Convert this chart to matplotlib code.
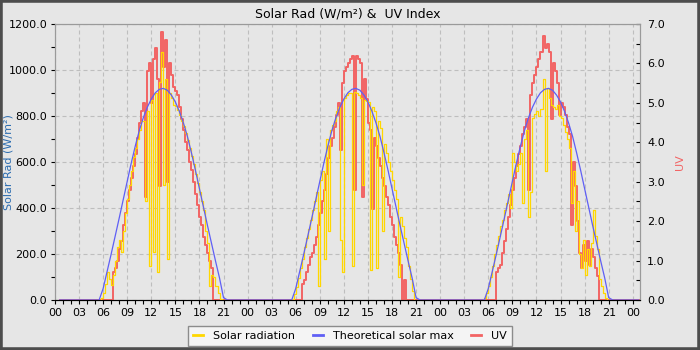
import numpy as np
import matplotlib
matplotlib.use('Agg')
from matplotlib import pyplot as plt
from matplotlib.ticker import MultipleLocator, FormatStrFormatter, FuncFormatter
from matplotlib.patches import Rectangle

# daytime samples every 15 min, local clock 05:00 - 20:45
day_hours = np.arange(5.0, 21.0, 0.25)
day_starts = [0, 24, 48]

solar_day1 = [
    0, 0, 0, 10, 30, 70, 120, 90,
    65, 110, 170, 230, 260, 210, 300, 380,
    440, 500, 560, 620, 660, 700, 740, 780,
    780, 430, 820, 150, 870, 210, 900, 120,
    950, 1080, 500, 960, 180, 900, 880, 850,
    845, 825, 805, 780, 755, 725, 695, 660,
    625, 590, 550, 510, 470, 430, 390, 300,
    250, 60, 110, 100, 60, 30, 5, 0]
solar_day2 = [
    0, 0, 5, 25, 55, 95, 140, 180,
    230, 270, 310, 350, 390, 430, 470, 60,
    520, 560, 180, 700, 300, 740, 760, 780,
    820, 840, 260, 120, 880, 890, 900, 900,
    150, 905, 900, 890, 880, 500, 870, 865,
    860, 130, 840, 820, 140, 780, 750, 300,
    680, 640, 600, 560, 520, 480, 440, 100,
    360, 320, 270, 230, 150, 90, 40, 0]
solar_day3 = [
    0, 0, 10, 30, 60, 100, 150, 200,
    240, 280, 320, 350, 390, 420, 460, 400,
    640, 600, 560, 590, 640, 420, 700, 740,
    360, 470, 790, 810, 820, 800, 830, 960,
    560, 920, 880, 850, 840, 830, 850, 800,
    790, 760, 730, 700, 660, 420, 560, 300,
    430, 200, 140, 260, 110, 220, 150, 250,
    390, 280, 220, 90, 60, 30, 10, 0]

uv_day1 = [
    0, 0, 0, 0, 0, 0, 0, 0,
    0, 0.7, 0.8, 1.0, 1.3, 1.5, 1.9, 2.2,
    2.5, 2.8, 3.1, 3.4, 3.7, 4.1, 4.5, 4.8,
    5.0, 2.6, 5.8, 6.0, 5.0, 6.1, 6.4, 5.6,
    2.9, 6.8, 5.9, 6.6, 3.0, 6.0, 5.7, 5.4,
    5.3, 5.2, 4.9, 4.6, 4.3, 4.0, 3.8, 3.5,
    3.3, 3.0, 2.7, 2.4, 2.1, 1.9, 1.6, 1.4,
    1.2, 1.0, 0.8, 0, 0, 0, 0, 0]
uv_day2 = [
    0, 0, 0, 0, 0, 0, 0, 0.4,
    0.5, 0.7, 0.9, 1.1, 1.2, 1.4, 1.6, 1.9,
    2.2, 2.5, 2.8, 3.2, 3.6, 3.9, 4.1, 4.4,
    4.7, 5.0, 3.8, 5.5, 5.8, 5.9, 6.0, 6.1,
    6.2, 2.8, 6.2, 6.1, 6.0, 2.6, 5.6, 5.1,
    4.5, 4.3, 2.3, 4.1, 3.9, 3.6, 3.4, 3.1,
    2.9, 2.6, 2.4, 2.1, 1.9, 1.6, 1.4, 1.2,
    0.9, 0, 0.5, 0, 0, 0, 0, 0]
uv_day3 = [
    0, 0, 0, 0, 0, 0, 0, 0,
    0.7, 0.8, 0.9, 1.2, 1.5, 1.8, 2.1, 2.4,
    2.8, 3.1, 3.4, 3.7, 3.9, 4.2, 4.4, 4.6,
    2.8, 5.2, 5.5, 5.7, 5.9, 6.1, 6.3, 6.7,
    6.4, 6.5, 6.3, 4.6, 6.0, 5.8, 5.5, 4.7,
    5.0, 4.9, 4.7, 4.4, 4.2, 1.9, 3.5, 2.9,
    2.0, 1.2, 0.8, 1.4, 1.0, 1.5, 0.9, 1.3,
    1.1, 0.8, 0.6, 0, 0, 0, 0, 0]

# theoretical clear-sky max, every 30 min 05:30 - 21:30 (same each day)
theo_hours = np.arange(5.5, 21.51, 0.5)
theo_day = [0, 50, 125, 200, 278, 356, 436, 516, 595, 669, 736, 792, 838,
            874, 901, 916, 920, 912, 891, 861, 820, 770, 711, 640, 564, 484,
            404, 324, 247, 170, 96, 10, 0]

first_hour, last_hour = 0.6, 72.75


def build(days, hours):
    t, v = [first_hour], [0]
    for start, vals in zip(day_starts, days):
        t.extend(start + hours)
        v.extend(vals)
    t.append(last_hour)
    v.append(0)
    return np.array(t), np.array(v)


t_sol, solar = build([solar_day1, solar_day2, solar_day3], day_hours)
t_uv, uv = build([uv_day1, uv_day2, uv_day3], day_hours)
t_th, theo = build([theo_day] * 3, theo_hours)

bg = '#e6e6e6'
c_sol, c_theo, c_uv = '#ffd700', '#5f5ff5', '#f26464'

fig = plt.figure(figsize=(7, 3.5), dpi=100, facecolor=bg)
ax = fig.add_axes([55 / 700, 50 / 350, 585 / 700, 276 / 350], facecolor=bg)
ax2 = ax.twinx()   # UV scale (drawn below the solar lines)
ax3 = ax.twinx()   # solar lines on top
ax3.set_ylim(0, 1200)
ax3.set_axis_off()

l_uv, = ax2.plot(t_uv, uv, drawstyle='steps-post', color=c_uv, lw=1.4, label='UV')
l_sol, = ax3.plot(t_sol, solar, drawstyle='steps-post', color=c_sol, lw=0.9,
                  label='Solar radiation')
l_th, = ax3.plot(t_th, theo, color=c_theo, lw=0.9, label='Theoretical solar max')

ax.set_xlim(0, 72.9)
ax.set_ylim(0, 1200)
ax2.set_ylim(0, 7)

ax.xaxis.set_major_locator(MultipleLocator(3))
ax.xaxis.set_minor_locator(MultipleLocator(1))
ax.xaxis.set_major_formatter(FuncFormatter(lambda v, p: f"{int(round(v)) % 24:02d}"))
ax.yaxis.set_major_locator(MultipleLocator(200))
ax.yaxis.set_minor_locator(MultipleLocator(100))
ax.yaxis.set_major_formatter(FormatStrFormatter('%.1f'))
ax2.yaxis.set_major_locator(MultipleLocator(1))
ax2.yaxis.set_minor_locator(MultipleLocator(0.5))
ax2.yaxis.set_major_formatter(FormatStrFormatter('%.1f'))

ax.tick_params(axis='both', which='both', direction='out', length=3, width=0.8,
               labelsize=8, colors='black', pad=2.5)
ax.tick_params(axis='x', which='both', pad=3)
ax2.tick_params(axis='y', which='both', direction='in', length=3, width=0.8,
                labelsize=8, pad=5)

ax.grid(True, which='major', linestyle=(0, (3.6, 2.7)), color='#bebebe', lw=0.8)

for a in (ax, ax2):
    for s in ('left', 'top', 'right'):
        a.spines[s].set_color('#9a9a9a')
    a.spines['bottom'].set_color('black')

ax.set_title('Solar Rad (W/m²) &  UV Index', fontsize=9, pad=5)
fig.text(8.5 / 700, 1 - 162 / 350, 'Solar Rad (W/m²)', rotation=90, ha='center',
         va='center', fontsize=8, color='#2b6cb0')
fig.text(680 / 700, 1 - 162 / 350, 'UV', rotation=90, ha='center', va='center',
         fontsize=8, color=c_uv)

leg = fig.legend([l_sol, l_th, l_uv], ['Solar radiation', 'Theoretical solar max', 'UV'],
                 loc='lower center', bbox_to_anchor=(0.5, -0.005), ncol=3, fontsize=8,
                 fancybox=False, edgecolor='#8c8c8c', facecolor='#f4f4f4', framealpha=1,
                 handlelength=0.9, handletextpad=0.9, columnspacing=1.6, borderpad=0.45)
for h in leg.get_lines():
    h.set_linewidth(2)

fig.add_artist(Rectangle((0, 0), 1, 1, transform=fig.transFigure, fill=False,
                         edgecolor='#4d4d4d', lw=4, zorder=100))

fig.savefig('out.png', dpi=100, facecolor=bg)
